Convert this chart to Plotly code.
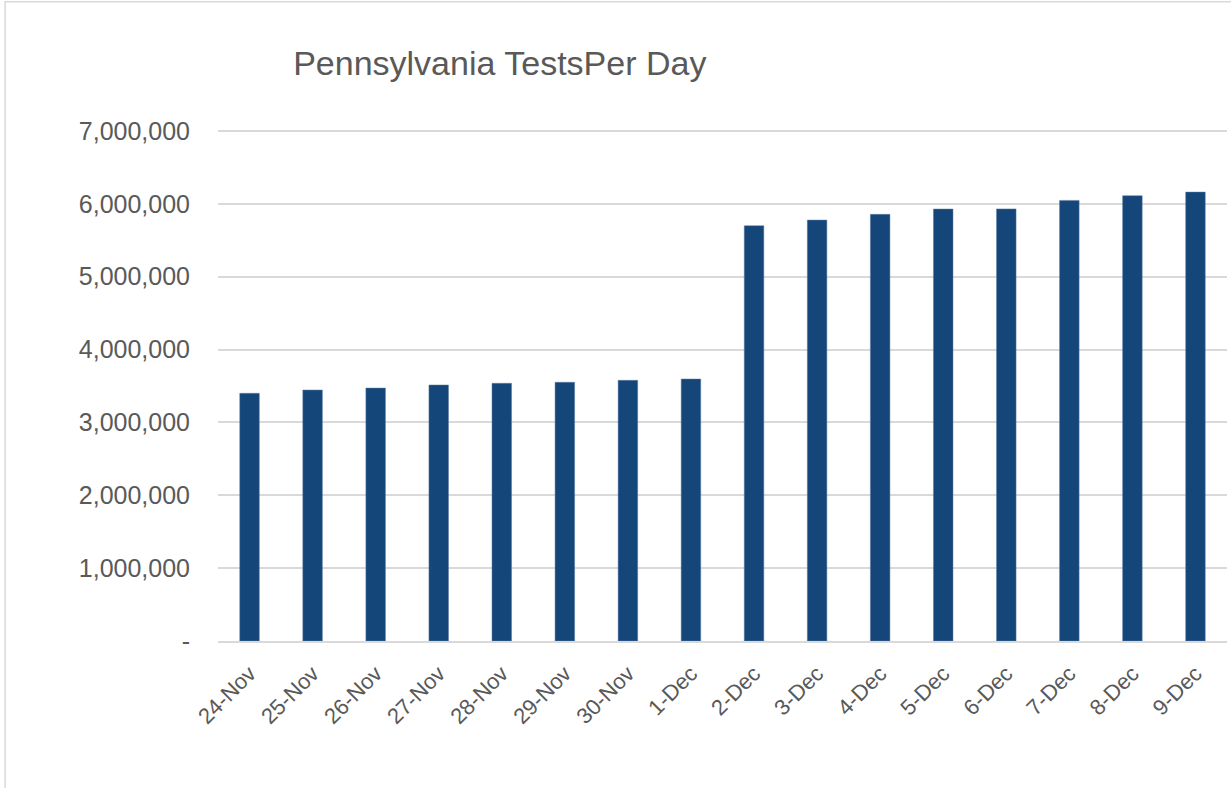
import plotly.graph_objects as go

dates = [
    "24-Nov", "25-Nov", "26-Nov", "27-Nov", "28-Nov", "29-Nov", "30-Nov", "1-Dec",
    "2-Dec", "3-Dec", "4-Dec", "5-Dec", "6-Dec", "7-Dec", "8-Dec", "9-Dec",
]
tests = [
    3400000, 3445000, 3472000, 3514000, 3537000, 3551000, 3578000, 3596000,
    5700000, 5778000, 5856000, 5929000, 5931000, 6048000, 6112000, 6162000,
]
y_ticks = [0, 1000000, 2000000, 3000000, 4000000, 5000000, 6000000, 7000000]
y_labels = ["-", "1,000,000", "2,000,000", "3,000,000", "4,000,000",
            "5,000,000", "6,000,000", "7,000,000"]

BAR = "#14467a"
GRID = "#d9d9d9"
TEXT = "#595959"
FONT = "Liberation Sans, Arial, sans-serif"

fig = go.Figure()
fig.add_trace(
    go.Bar(
        x=dates,
        y=tests,
        width=0.31,
        marker=dict(color=BAR, line=dict(color="#5a7da3", width=0.5)),
        hovertemplate="%{x}: %{y:,}<extra></extra>",
    )
)

# outer chart frame (only top and left edges fall inside the window)
fig.add_shape(
    type="rect", xref="paper", yref="paper",
    x0=-0.211, x1=1.05, y0=-0.32, y1=1.251,
    line=dict(color=GRID, width=1.5), fillcolor="rgba(0,0,0,0)", layer="below",
)

fig.update_layout(
    width=1231,
    height=788,
    margin=dict(l=218, r=4, t=130, b=147),
    paper_bgcolor="white",
    plot_bgcolor="white",
    showlegend=False,
    font=dict(family=FONT, color=TEXT),
    title=dict(
        text="Pennsylvania TestsPer Day",
        x=0.406, xref="container", xanchor="center",
        y=0.92, yref="container", yanchor="middle",
        font=dict(size=34, color=TEXT, family=FONT),
    ),
    xaxis=dict(
        type="category",
        tickangle=-45,
        tickfont=dict(size=22, color=TEXT),
        showgrid=False,
        showline=True,
        linecolor=GRID,
        linewidth=2,
        ticks="outside",
        ticklen=9,
        tickcolor="rgba(0,0,0,0)",
    ),
    yaxis=dict(
        range=[0, 7014000],
        tickvals=y_ticks,
        ticktext=y_labels,
        tickfont=dict(size=25, color=TEXT),
        showgrid=True,
        gridcolor=GRID,
        gridwidth=1.5,
        zeroline=False,
        showline=False,
        ticks="outside",
        ticklen=22,
        tickcolor="rgba(0,0,0,0)",
    ),
    bargap=0.69,
)

# drop the default page margin so the chart sits at the window's corner
fig.write_html(
    "out.html",
    config={"displayModeBar": False},
    post_script="document.body.style.margin='0';",
)
